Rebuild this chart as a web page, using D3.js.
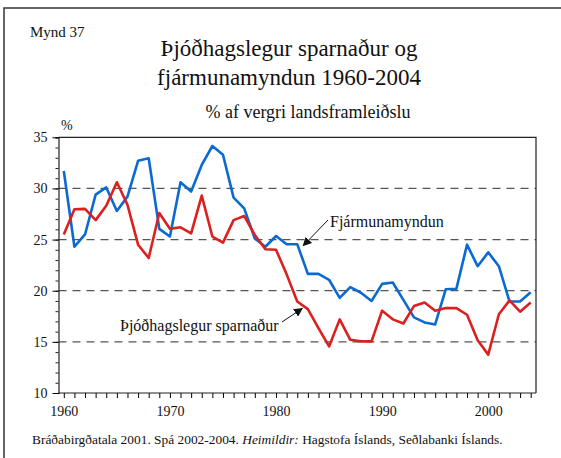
<!DOCTYPE html>
<html>
<head>
<meta charset="utf-8">
<script src="https://cdn.jsdelivr.net/npm/d3@7"></script>
<style>
  body { margin: 0; background: #fff; }
</style>
</head>
<body>
<div class="viz"></div>
<script>
// pick the first serif face that is really installed
function pickFont(list) {
  const ctx = document.createElement("canvas").getContext("2d");
  const sample = "Þjóðhagslegur sparnaður 1960 mmmwwwiii";
  ctx.font = "20px monospace";
  const base = ctx.measureText(sample).width;
  for (const f of list) {
    ctx.font = `20px "${f}", monospace`;
    if (Math.abs(ctx.measureText(sample).width - base) > 0.5) return `"${f}", serif`;
  }
  return "serif";
}
const serif = pickFont(["Liberation Serif", "Times New Roman", "Tinos", "DejaVu Serif",
  "Noto Serif", "FreeSerif", "Nimbus Roman", "Nimbus Roman No9 L", "Times"]);

const years = d3.range(1960, 2005);

// Fjármunamyndun (blue)
const investment = [
  31.7, 24.3, 25.5, 29.4, 30.1, 27.8, 29.2, 32.7, 32.95, 26.05,
  25.3, 30.6, 29.7, 32.3, 34.15, 33.3, 29.1, 28.05, 25.1, 24.3,
  25.35, 24.55, 24.55, 21.65, 21.65, 21.07, 19.3, 20.35, 19.8, 19.0,
  20.67, 20.8, 19.1, 17.4, 16.9, 16.7, 20.15, 20.2, 24.5, 22.4,
  23.75, 22.4, 18.95, 18.95, 19.85
];

// Þjóðhagslegur sparnaður (red)
const saving = [
  25.5, 27.97, 28.0, 26.9, 28.3, 30.6, 28.4, 24.5, 23.2, 27.6,
  26.05, 26.2, 25.6, 29.3, 25.3, 24.7, 26.9, 27.3, 25.45, 24.05,
  24.0, 21.6, 18.95, 18.2, 16.35, 14.55, 17.2, 15.2, 15.05, 15.05,
  18.05, 17.2, 16.8, 18.5, 18.85, 18.05, 18.3, 18.3, 17.65, 15.15,
  13.75, 17.7, 19.05, 17.95, 18.85
];

const yTicks = [10, 15, 20, 25, 30, 35];
const gridValues = [15, 20, 25, 30];
const xLabels = [1960, 1970, 1980, 1990, 2000];

const width = 561, height = 458;
const plot = { left: 58.5, right: 536, top: 137.3, bottom: 393 };

const svg = d3.select(".viz").append("svg")
  .attr("width", width).attr("height", height)
  .style("font-family", serif);

// outer frame (open at right and bottom)
svg.append("path")
  .attr("d", `M${width + 2},8 H4 V${height + 2}`)
  .attr("fill", "none").attr("stroke", "#333").attr("stroke-width", 1.5);

function label(xp, yp, size, txt, anchor) {
  return svg.append("text").attr("x", xp).attr("y", yp)
    .attr("text-anchor", anchor || "start")
    .style("font-family", serif).style("font-size", size + "px")
    .attr("fill", "#111").text(txt);
}

label(30, 37, 15, "Mynd 37");
label(289, 56, 23, "Þjóðhagslegur sparnaður og", "middle");
label(289, 85, 23, "fjármunamyndun 1960-2004", "middle");
label(308, 118, 18, "% af vergri landsframleiðslu", "middle");
label(61, 130, 14, "%");

const x = d3.scaleLinear().domain([1959.5, 2004.5]).range([plot.left, plot.right]);
const y = d3.scaleLinear().domain([10, 35]).range([plot.bottom, plot.top]);

// gridlines
svg.append("g").selectAll("line").data(gridValues).join("line")
  .attr("x1", plot.left).attr("x2", plot.right)
  .attr("y1", d => y(d)).attr("y2", d => y(d))
  .attr("stroke", "#555").attr("stroke-width", 1.3)
  .attr("stroke-dasharray", "8,6");

// top and right border
svg.append("path")
  .attr("d", `M${plot.left},${y(35)} H${plot.right} V${plot.bottom}`)
  .attr("fill", "none").attr("stroke", "#222").attr("stroke-width", 1.2);

// y axis
const yAxis = svg.append("g").attr("transform", `translate(${plot.left},0)`);
yAxis.call(d3.axisLeft(y).tickValues(d3.range(10, 36, 1)).tickSize(3).tickFormat(""));
yAxis.selectAll(".tick line").attr("stroke", "#222");
const yMajor = svg.append("g").attr("transform", `translate(${plot.left},0)`)
  .call(d3.axisLeft(y).tickValues(yTicks).tickSize(6).tickPadding(5));
yMajor.select(".domain").remove();
yMajor.selectAll("text").style("font-family", serif).style("font-size", "14px").attr("fill", "#111");
yAxis.select(".domain").attr("stroke", "#222").attr("stroke-width", 1.2);

// x axis
const xAxis = svg.append("g").attr("transform", `translate(0,${plot.bottom})`)
  .call(d3.axisBottom(x).tickValues(years).tickSize(5).tickSizeOuter(0)
    .tickFormat(d => xLabels.includes(d) ? d : ""));
xAxis.select(".domain").attr("stroke", "#222").attr("stroke-width", 1.2)
  .attr("d", `M${plot.left},0H${plot.right}`);
xAxis.selectAll("text").style("font-family", serif).style("font-size", "14px")
  .attr("fill", "#111").attr("dy", "1.05em");

const line = d3.line().x((d, i) => x(years[i])).y(d => y(d));

svg.append("path").datum(investment)
  .attr("d", line).attr("fill", "none")
  .attr("stroke", "#0a6ad2").attr("stroke-width", 2.6).attr("stroke-linejoin", "round");
svg.append("path").datum(saving)
  .attr("d", line).attr("fill", "none")
  .attr("stroke", "#dc2020").attr("stroke-width", 2.6).attr("stroke-linejoin", "round");

// annotations
svg.append("defs").append("marker")
  .attr("id", "arrow").attr("viewBox", "0 0 10 10")
  .attr("refX", 9).attr("refY", 5).attr("markerWidth", 9).attr("markerHeight", 9)
  .attr("markerUnits", "userSpaceOnUse")
  .attr("orient", "auto")
  .append("path").attr("d", "M0,0 L10,5 L0,10 Z").attr("fill", "#111");

label(330, 227, 16, "Fjármunamyndun");
svg.append("line").attr("x1", 328).attr("y1", 220).attr("x2", x(1982) + 6).attr("y2", y(24.5) + 1)
  .attr("stroke", "#111").attr("stroke-width", 1).attr("marker-end", "url(#arrow)");

label(120, 331, 16, "Þjóðhagslegur sparnaður");
svg.append("line").attr("x1", 282).attr("y1", 322).attr("x2", x(1982) + 5).attr("y2", y(18.95) + 7)
  .attr("stroke", "#111").attr("stroke-width", 1).attr("marker-end", "url(#arrow)");

const foot = label(32, 444, 13.4, "");
foot.append("tspan").text("Bráðabirgðatala 2001. Spá 2002-2004.  ");
foot.append("tspan").style("font-style", "italic").text("Heimildir:");
foot.append("tspan").text(" Hagstofa Íslands, Seðlabanki Íslands.");
</script>
</body>
</html>
